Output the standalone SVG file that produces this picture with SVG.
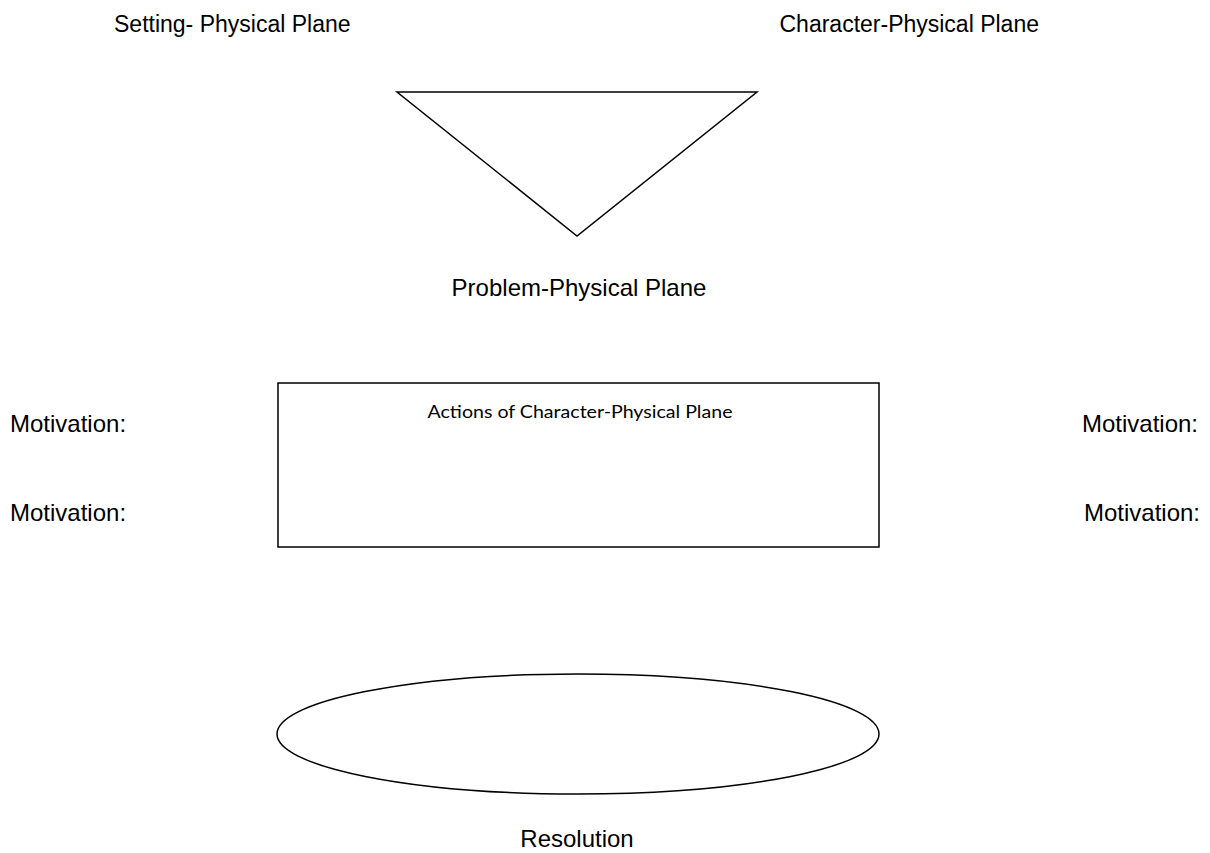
<svg xmlns="http://www.w3.org/2000/svg" width="1210" height="853" viewBox="0 0 1210 853">
<style>
.lbl{font-family:"Liberation Sans",Arial,sans-serif;font-size:23px;fill:#000}
.big{font-size:24px}
.inner{font-family:Lato,"Open Sans",sans-serif;font-size:17px;fill:#000}
.shape{fill:#fff;stroke:#000;stroke-width:1.5}
</style>
<rect width="1210" height="853" fill="#fff"/>
<g id="connectors"></g>
<g id="setting"><text class="lbl" x="114" y="32">Setting- Physical Plane</text></g>
<g id="character"><text class="lbl" x="1039" y="32" text-anchor="end">Character-Physical Plane</text></g>
<g id="problem">
<polygon class="shape" points="397,92 757,92 577,236"/>
<text class="lbl big" x="579" y="296" text-anchor="middle">Problem-Physical Plane</text>
</g>
<g id="actions">
<rect class="shape" x="278" y="383" width="601" height="164"/>
<text class="inner" x="580" y="418" text-anchor="middle" textLength="305" lengthAdjust="spacingAndGlyphs">Actions of Character-Physical Plane</text>
</g>
<g id="motivation-l1"><text class="lbl big" x="10" y="432">Motivation:</text></g>
<g id="motivation-l2"><text class="lbl big" x="10" y="521">Motivation:</text></g>
<g id="motivation-r1"><text class="lbl big" x="1198" y="432" text-anchor="end">Motivation:</text></g>
<g id="motivation-r2"><text class="lbl big" x="1200" y="521" text-anchor="end">Motivation:</text></g>
<g id="resolution">
<ellipse class="shape" cx="578" cy="734" rx="301" ry="60"/>
<text class="lbl big" x="577" y="847" text-anchor="middle">Resolution</text>
</g>
</svg>
